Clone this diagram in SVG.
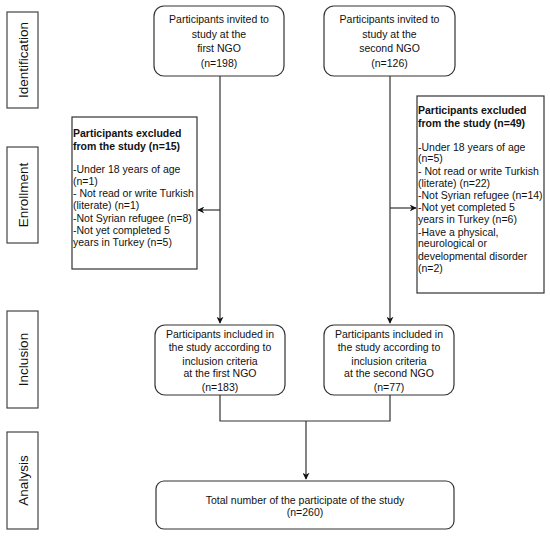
<svg xmlns="http://www.w3.org/2000/svg" width="550" height="536" viewBox="0 0 550 536">
<defs>
<style>
.box{fill:#fff;stroke:#333;stroke-width:1.2}
.lab{fill:#fff;stroke:#444;stroke-width:1.2}
.t{font-family:"Liberation Sans",Arial,Helvetica,sans-serif;font-size:10.5px;fill:#111}
.c{text-anchor:middle}
.b{font-weight:bold}
.side{font-family:"Liberation Sans",Arial,Helvetica,sans-serif;font-size:13.5px;fill:#111;text-anchor:middle}
.ln{fill:none;stroke:#333;stroke-width:1.2}
</style>
<marker id="ah" viewBox="0 0 10 10" refX="9" refY="5" markerWidth="7" markerHeight="7" markerUnits="userSpaceOnUse" orient="auto">
<path d="M0,0 L10,5 L0,10 L3,5 Z" fill="#111"/>
</marker>
</defs>
<rect width="550" height="536" fill="#fff"/>

<g id="side-identification"><rect class="lab" x="7" y="12" width="31" height="96"/><text class="side" transform="translate(27.5,60) rotate(-90)">Identification</text></g>
<g id="side-enrollment"><rect class="lab" x="7" y="147" width="31" height="96"/><text class="side" transform="translate(27.5,195) rotate(-90)">Enrollment</text></g>
<g id="side-inclusion"><rect class="lab" x="7" y="311" width="31" height="97"/><text class="side" transform="translate(27.5,359.5) rotate(-90)">Inclusion</text></g>
<g id="side-analysis"><rect class="lab" x="7" y="432" width="31" height="97"/><text class="side" transform="translate(27.5,480.5) rotate(-90)">Analysis</text></g>

<g id="connectors">
<path class="ln" d="M220,76 V323" marker-end="url(#ah)"/>
<path class="ln" d="M220,210 H198" marker-end="url(#ah)"/>
<path class="ln" d="M390,76 V323" marker-end="url(#ah)"/>
<path class="ln" d="M390,208 H416" marker-end="url(#ah)"/>
<path class="ln" d="M220,395 V421 H390 V395"/>
<path class="ln" d="M306,421 V479" marker-end="url(#ah)"/>
</g>

<g id="invited-first">
<rect class="box" x="154" y="6" width="130" height="70" rx="10"/>
<text class="t c" x="219" y="22.7">Participants invited to</text>
<text class="t c" x="219" y="37.5">study at the</text>
<text class="t c" x="219" y="51.8">first NGO</text>
<text class="t c" x="219" y="66.5">(n=198)</text>
</g>

<g id="invited-second">
<rect class="box" x="324" y="6" width="131" height="70" rx="10"/>
<text class="t c" x="389.5" y="22.7">Participants invited to</text>
<text class="t c" x="389.5" y="37.5">study at the</text>
<text class="t c" x="389.5" y="51.8">second NGO</text>
<text class="t c" x="389.5" y="66.5">(n=126)</text>
</g>

<g id="excluded-first">
<rect class="box" x="72" y="117" width="125" height="152"/>
<text class="t b" x="73" y="137">Participants excluded</text>
<text class="t b" x="73" y="149.5">from the study (n=15)</text>
<text class="t" x="73" y="172.5">-Under 18 years of age</text>
<text class="t" x="73" y="185">(n=1)</text>
<text class="t" x="73" y="197">- Not read or write Turkish</text>
<text class="t" x="73" y="209">(literate) (n=1)</text>
<text class="t" x="73" y="221.5">-Not Syrian refugee (n=8)</text>
<text class="t" x="73" y="233.5">-Not yet completed 5</text>
<text class="t" x="73" y="245.5">years in Turkey (n=5)</text>
</g>

<g id="excluded-second">
<rect class="box" x="417" y="96" width="127" height="197"/>
<text class="t b" x="418" y="113.7">Participants excluded</text>
<text class="t b" x="418" y="126.5">from the study (n=49)</text>
<text class="t" x="418" y="150.5">-Under 18 years of age</text>
<text class="t" x="418" y="162">(n=5)</text>
<text class="t" x="418" y="174.5">- Not read or write Turkish</text>
<text class="t" x="418" y="186.5">(literate) (n=22)</text>
<text class="t" x="418" y="198.5">-Not Syrian refugee (n=14)</text>
<text class="t" x="418" y="211">-Not yet completed 5</text>
<text class="t" x="418" y="223">years in Turkey (n=6)</text>
<text class="t" x="418" y="235.5">-Have a physical,</text>
<text class="t" x="418" y="247">neurological or</text>
<text class="t" x="418" y="259.5">developmental disorder</text>
<text class="t" x="418" y="271.5">(n=2)</text>
</g>

<g id="included-first">
<rect class="box" x="155" y="325" width="130" height="70" rx="10"/>
<text class="t c" x="220" y="337.7">Participants included in</text>
<text class="t c" x="220" y="350.7">the study according to</text>
<text class="t c" x="220" y="364.5">inclusion criteria</text>
<text class="t c" x="220" y="376.8">at the first NGO</text>
<text class="t c" x="220" y="390.5">(n=183)</text>
</g>

<g id="included-second">
<rect class="box" x="324" y="325" width="130" height="70" rx="10"/>
<text class="t c" x="389" y="337.7">Participants included in</text>
<text class="t c" x="389" y="350.7">the study according to</text>
<text class="t c" x="389" y="364.5">inclusion criteria</text>
<text class="t c" x="389" y="376.8">at the second NGO</text>
<text class="t c" x="389" y="390.5">(n=77)</text>
</g>

<g id="total">
<rect class="box" x="156" y="481" width="298" height="48" rx="8"/>
<text class="t c" x="305" y="503.7">Total number of the participate of the study</text>
<text class="t c" x="305" y="515.7">(n=260)</text>
</g>
</svg>
